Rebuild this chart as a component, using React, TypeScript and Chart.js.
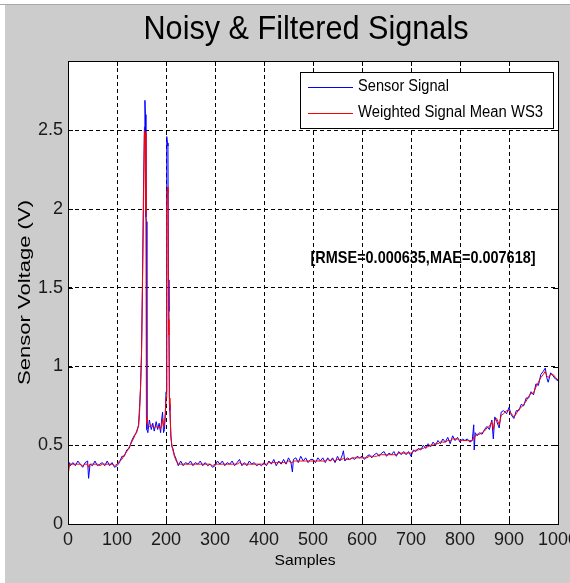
import React, { useEffect, useRef } from "react";
import { Chart, registerables } from "chart.js";

Chart.register(...registerables);

// ---------- data ----------
const samples = [
  0, 3, 5, 10, 15, 20, 25, 30, 35, 40, 42, 45, 50, 55, 60, 65, 70, 75, 80, 85, 90, 95,
  100, 105, 110, 115, 120, 125, 130, 135, 140, 144, 146, 148, 150, 152, 154, 156, 157, 158, 159,
  160, 161, 163, 166, 170, 173, 176, 180, 183, 186, 189, 191, 193, 195, 197, 199,
  200, 201, 202, 203, 204, 205, 206, 207, 208, 210, 212, 214, 217, 221, 225, 230, 235, 240, 245,
  250, 255, 260, 265, 270, 275, 280, 285, 290, 295, 300, 305, 310, 315, 320, 325, 330, 335, 340, 345,
  350, 355, 360, 365, 370, 375, 380, 385, 390, 395, 400, 405, 410, 415, 420, 425, 430, 435, 440, 445,
  450, 455, 458, 460, 465, 470, 475, 480, 485, 490, 495, 500, 505, 510, 515, 520, 525, 530, 535, 540,
  545, 550, 555, 560, 562, 565, 570, 575, 580, 585, 590, 595, 600, 605, 610, 615, 620, 625, 630, 635,
  640, 645, 650, 655, 660, 665, 670, 675, 680, 685, 690, 695, 700, 705, 710, 715, 720, 725, 730, 735,
  740, 745, 750, 755, 760, 765, 770, 775, 780, 785, 790, 795, 800, 805, 810, 815, 820, 825, 828, 829,
  831, 835, 840, 845, 850, 855, 860, 865, 868, 871, 875, 880, 884, 889, 895, 900, 905, 910, 915, 920,
  925, 930, 935, 940, 945, 950, 955, 960, 965, 970, 974, 977, 980, 985, 990, 995, 1000,
];

const sensorSignal = [
  0.33, 0.39, 0.37, 0.39, 0.37, 0.40, 0.38, 0.36, 0.39, 0.40, 0.29, 0.38, 0.37, 0.40, 0.37, 0.38, 0.39, 0.37, 0.40, 0.37, 0.39, 0.36,
  0.37, 0.39, 0.43, 0.43, 0.47, 0.48, 0.53, 0.56, 0.58, 0.63, 0.74, 0.86, 1.08, 1.50, 2.10, 2.52, 2.69, 2.60, 1.95,
  1.92, 0.60, 0.58, 0.66, 0.60, 0.64, 0.59, 0.65, 0.60, 0.64, 0.58, 0.66, 0.71, 0.58, 0.60, 0.74,
  0.84, 1.60, 2.46, 2.42, 2.40, 1.55, 1.35, 0.76, 0.72, 0.56, 0.49, 0.48, 0.44, 0.41, 0.37, 0.40, 0.37, 0.39, 0.38,
  0.40, 0.37, 0.39, 0.38, 0.40, 0.37, 0.39, 0.37, 0.38, 0.36, 0.37, 0.40, 0.38, 0.40, 0.37, 0.39, 0.38, 0.40, 0.37, 0.39,
  0.41, 0.37, 0.39, 0.37, 0.40, 0.38, 0.39, 0.37, 0.38, 0.37, 0.39, 0.37, 0.40, 0.38, 0.41, 0.37, 0.40, 0.38, 0.41, 0.38,
  0.42, 0.39, 0.33, 0.41, 0.42, 0.39, 0.43, 0.40, 0.42, 0.39, 0.41, 0.41, 0.39, 0.42, 0.40, 0.42, 0.39, 0.42, 0.40, 0.42,
  0.39, 0.43, 0.40, 0.44, 0.465, 0.40, 0.42, 0.41, 0.42, 0.41, 0.43, 0.42, 0.43, 0.41, 0.43, 0.44, 0.42, 0.44, 0.45, 0.43,
  0.45, 0.46, 0.43, 0.45, 0.44, 0.46, 0.43, 0.46, 0.44, 0.46, 0.44, 0.46, 0.43, 0.47, 0.46, 0.48, 0.47, 0.50, 0.48, 0.51,
  0.49, 0.52, 0.50, 0.53, 0.51, 0.54, 0.52, 0.55, 0.51, 0.56, 0.53, 0.55, 0.52, 0.54, 0.53, 0.54, 0.52, 0.53, 0.63, 0.47,
  0.58, 0.56, 0.58, 0.57, 0.60, 0.62, 0.60, 0.66, 0.54, 0.68, 0.65, 0.61, 0.71, 0.72, 0.70, 0.74, 0.69, 0.67, 0.72, 0.72,
  0.76, 0.75, 0.80, 0.80, 0.84, 0.82, 0.89, 0.88, 0.95, 0.97, 0.99, 0.93, 0.90, 0.96, 0.94, 0.92, 0.91,
];

const weightedMean = [
  0.30, 0.38, 0.38, 0.38, 0.38, 0.38, 0.38, 0.37, 0.38, 0.38, 0.36, 0.38, 0.38, 0.38, 0.38, 0.37, 0.38, 0.38, 0.38, 0.38, 0.38, 0.37,
  0.38, 0.40, 0.41, 0.44, 0.46, 0.49, 0.52, 0.55, 0.59, 0.62, 0.70, 0.87, 1.07, 1.55, 2.00, 2.50, 2.50, 2.48, 1.98,
  0.68, 0.64, 0.63, 0.62, 0.63, 0.62, 0.61, 0.62, 0.61, 0.62, 0.60, 0.63, 0.67, 0.62, 0.64, 0.70,
  0.80, 1.30, 2.00, 2.14, 2.10, 1.30, 1.20, 0.80, 0.74, 0.55, 0.50, 0.47, 0.43, 0.40, 0.38, 0.38, 0.38, 0.38, 0.38,
  0.38, 0.38, 0.38, 0.38, 0.38, 0.38, 0.38, 0.38, 0.38, 0.37, 0.38, 0.38, 0.38, 0.38, 0.38, 0.38, 0.38, 0.38, 0.38, 0.38,
  0.39, 0.38, 0.38, 0.38, 0.38, 0.38, 0.38, 0.38, 0.38, 0.38, 0.38, 0.38, 0.39, 0.39, 0.39, 0.39, 0.39, 0.39, 0.39, 0.39,
  0.40, 0.39, 0.39, 0.40, 0.40, 0.40, 0.40, 0.40, 0.40, 0.40, 0.40, 0.40, 0.40, 0.40, 0.40, 0.40, 0.40, 0.41, 0.40, 0.41,
  0.40, 0.41, 0.41, 0.41, 0.42, 0.41, 0.41, 0.41, 0.42, 0.42, 0.42, 0.42, 0.42, 0.42, 0.42, 0.43, 0.43, 0.43, 0.43, 0.44,
  0.44, 0.44, 0.44, 0.44, 0.44, 0.44, 0.44, 0.45, 0.45, 0.45, 0.45, 0.45, 0.45, 0.46, 0.47, 0.47, 0.48, 0.48, 0.49, 0.49,
  0.50, 0.50, 0.51, 0.51, 0.52, 0.52, 0.52, 0.53, 0.53, 0.54, 0.54, 0.54, 0.53, 0.53, 0.53, 0.53, 0.53, 0.53, 0.55, 0.54,
  0.56, 0.57, 0.57, 0.58, 0.59, 0.61, 0.62, 0.65, 0.60, 0.66, 0.67, 0.63, 0.69, 0.70, 0.72, 0.72, 0.70, 0.68, 0.70, 0.73,
  0.74, 0.76, 0.78, 0.81, 0.83, 0.83, 0.87, 0.90, 0.93, 0.95, 0.97, 0.94, 0.93, 0.95, 0.95, 0.93, 0.915,
];

const seriesNames = ["Sensor Signal", "Weighted Signal Mean WS3"];
const seriesColors = ["#0000ff", "#ff0000"];
const titleText = "Noisy & Filtered Signals";
const xAxisTitle = "Samples";
const yAxisTitle = "Sensor Voltage (V)";
const annotationText = "[RMSE=0.000635,MAE=0.007618]";
const annotationX = 495;
const annotationY = 1.69;
const xMin = 0;
const xMax = 1000;
const xStep = 100;
const yMin = 0;
const yMax = 2.94;
const yStep = 0.5;

// ---------- styling ----------
const SANS = '"Liberation Sans", Arial, Helvetica, sans-serif';
const NARROW = '"Liberation Sans Narrow", "Arial Narrow", "Liberation Sans", Arial, sans-serif';
const FIG_BG = "#cccccc";

function fitText(
  ctx: CanvasRenderingContext2D,
  text: string,
  x: number,
  y: number,
  width: number,
  font: string,
  align: CanvasTextAlign,
  rotate = false
) {
  ctx.save();
  ctx.font = font;
  const w = ctx.measureText(text).width || 1;
  ctx.translate(x, y);
  if (rotate) ctx.rotate(-Math.PI / 2);
  ctx.scale(width / w, 1);
  ctx.textAlign = align;
  ctx.textBaseline = "middle";
  ctx.fillStyle = "#000";
  ctx.fillText(text, 0, 0);
  ctx.restore();
}

const figurePlugin = {
  id: "matlabFigure",
  beforeDraw(chart: any) {
    const { ctx, width, height, chartArea } = chart;
    ctx.save();
    ctx.fillStyle = "#ffffff";
    ctx.fillRect(0, 0, width, height);
    ctx.fillStyle = FIG_BG;
    ctx.fillRect(5, 5, width - 5, height - 5);
    ctx.fillStyle = "#a8a8a8";
    ctx.fillRect(0, 4, width, 1);
    ctx.fillStyle = "#ffffff";
    ctx.fillRect(chartArea.left, chartArea.top, chartArea.right - chartArea.left, chartArea.bottom - chartArea.top);
    ctx.restore();
  },
  afterDraw(chart: any) {
    const { ctx, chartArea } = chart;
    const xs = chart.scales.x;
    const ys = chart.scales.y;
    const L = chartArea.left, R = chartArea.right, T = chartArea.top, B = chartArea.bottom;
    ctx.save();
    // axes box
    ctx.strokeStyle = "#000";
    ctx.lineWidth = 1;
    ctx.setLineDash([]);
    ctx.strokeRect(Math.round(L) + 0.5, Math.round(T) + 0.5, Math.round(R - L), Math.round(B - T));
    // inward tick marks on all four sides
    const tl = 5;
    ctx.beginPath();
    xs.ticks.forEach((t: any) => {
      const px = Math.round(xs.getPixelForValue(t.value)) + 0.5;
      ctx.moveTo(px, B);
      ctx.lineTo(px, B - tl);
      ctx.moveTo(px, T);
      ctx.lineTo(px, T + tl);
    });
    ys.ticks.forEach((t: any) => {
      const py = Math.round(ys.getPixelForValue(t.value)) + 0.5;
      ctx.moveTo(L, py);
      ctx.lineTo(L + tl, py);
      ctx.moveTo(R, py);
      ctx.lineTo(R - tl, py);
    });
    ctx.stroke();

    // legend
    const lx = 300.5, ly = 72.5, lw = 253, lh = 56;
    ctx.fillStyle = "#ffffff";
    ctx.fillRect(lx, ly, lw, lh);
    ctx.strokeStyle = "#000";
    ctx.strokeRect(lx, ly, lw, lh);
    const rows = [87, 113];
    const widths = [91, 185];
    seriesNames.forEach((name, i) => {
      ctx.strokeStyle = seriesColors[i];
      ctx.beginPath();
      ctx.moveTo(308, rows[i] + 0.5);
      ctx.lineTo(353, rows[i] + 0.5);
      ctx.stroke();
      fitText(ctx, name, 358, rows[i], widths[i], `16px ${SANS}`, "left");
    });

    // annotation text in data coordinates
    fitText(
      ctx,
      annotationText,
      xs.getPixelForValue(annotationX),
      ys.getPixelForValue(annotationY),
      225,
      `bold 17px ${SANS}`,
      "left"
    );

    // titles
    fitText(ctx, titleText, 306, 30, 325, `34px ${SANS}`, "center");
    fitText(ctx, xAxisTitle, 305, 561, 61, `15px ${SANS}`, "center");
    fitText(ctx, yAxisTitle, 25, (T + B) / 2, 185, `17px ${SANS}`, "center", true);
    ctx.restore();
  },
};

const noEdgePadding = (scale: any) => {
  scale.paddingLeft = 0;
  scale.paddingRight = 0;
  scale.paddingTop = 0;
  scale.paddingBottom = 0;
};

export default function App() {
  const canvasRef = useRef<HTMLCanvasElement | null>(null);

  useEffect(() => {
    const canvas = canvasRef.current;
    if (!canvas) return;
    const toPoints = (vals: number[]) => samples.map((s, i) => ({ x: s, y: vals[i] }));
    const chart = new Chart(canvas, {
      type: "line",
      data: {
        datasets: [
          {
            label: seriesNames[0],
            data: toPoints(sensorSignal),
            borderColor: seriesColors[0],
            borderWidth: 1,
            pointRadius: 0,
            tension: 0,
            fill: false,
            order: 1,
          },
          {
            label: seriesNames[1],
            data: toPoints(weightedMean),
            borderColor: seriesColors[1],
            borderWidth: 1,
            pointRadius: 0,
            tension: 0,
            fill: false,
            order: 0,
          },
        ],
      },
      options: {
        responsive: false,
        animation: false,
        devicePixelRatio: 1,
        events: [],
        layout: {
          autoPadding: false,
          padding: { top: 61, right: 12, bottom: 0, left: 0 },
        },
        plugins: {
          legend: { display: false },
          title: { display: false },
          tooltip: { enabled: false },
        },
        scales: {
          x: {
            type: "linear",
            min: xMin,
            max: xMax,
            afterFit: (scale: any) => {
              scale.height = 59;
              noEdgePadding(scale);
            },
            ticks: {
              stepSize: xStep,
              includeBounds: false,
              autoSkip: false,
              maxRotation: 0,
              padding: 5,
              color: "#1a1a1a",
              font: { family: NARROW, size: 18 },
              callback: (v: any) => String(v),
            },
            grid: {
              drawTicks: false,
              color: "#000",
              lineWidth: 1,
            },
            border: { display: false, dash: [4, 3] },
          },
          y: {
            type: "linear",
            min: yMin,
            max: yMax,
            afterFit: (scale: any) => {
              scale.width = 68;
              noEdgePadding(scale);
            },
            ticks: {
              stepSize: yStep,
              includeBounds: false,
              autoSkip: false,
              padding: 5,
              color: "#1a1a1a",
              font: { family: NARROW, size: 18 },
              callback: (v: any) => String(v),
            },
            grid: {
              drawTicks: false,
              color: "#000",
              lineWidth: 1,
            },
            border: { display: false, dash: [4, 3] },
          },
        },
      },
      plugins: [figurePlugin],
    } as any);
    return () => chart.destroy();
  }, []);

  return (
    <div style={{ position: "absolute", left: 0, top: 0, width: 570, height: 583 }}>
      <canvas ref={canvasRef} width={570} height={583} style={{ display: "block" }} />
    </div>
  );
}
